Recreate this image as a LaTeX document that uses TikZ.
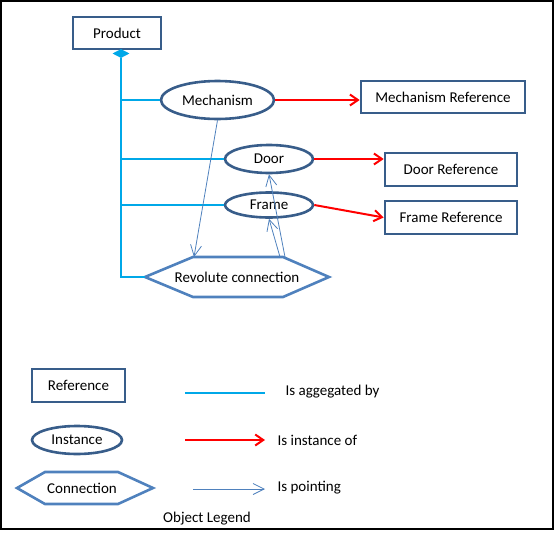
\documentclass[tikz,border=0pt]{standalone}
\usepackage{fontspec}
\setmainfont{Carlito}
\usetikzlibrary{shapes.geometric,arrows.meta}

\definecolor{refblue}{RGB}{56,93,138}
\definecolor{hexblue}{RGB}{79,129,189}
\definecolor{aggblue}{RGB}{0,168,232}

\begin{document}
\begin{tikzpicture}[x=1pt, y=-1pt,
    font=\fontsize{15}{17}\selectfont,
    refbox/.style={draw=refblue, line width=2.6pt, rectangle, inner sep=0pt},
    inst/.style={draw=refblue, line width=2.6pt, ellipse, inner sep=0pt},
    conn/.style={inner sep=0pt},
    hexline/.style={draw=hexblue, line width=2.6pt, line join=miter},
    aggr/.style={draw=aggblue, line width=2.2pt},
    isof/.style={draw=red, line width=2pt, -{Straight Barb[length=8pt, width=11pt]}},
    pointing/.style={draw=hexblue, line width=0.8pt, -{Straight Barb[length=11pt, width=11pt]}}]

            \useasboundingbox (0,0) rectangle (555,533);
            \draw[line width=1.4pt] (1,1) rectangle (553,529);

            % model
            \node[refbox, minimum width=88, minimum height=32] (prod) at (117,33) {Product};
            \node[diamond, fill=aggblue, inner sep=0pt, minimum width=17, minimum height=9] (agg) at (121,53.5) {};

            \node[inst, minimum width=113, minimum height=38] (mech) at (217.5,100) {Mechanism};
            \node[inst, minimum width=88, minimum height=28] (door) at (269,159) {Door};
            \node[inst, minimum width=88, minimum height=25] (frame) at (269,205) {Frame};
            \node[conn, minimum height=40] (rev) at (237,277) {Revolute connection};
            \draw[hexline] ([shift={(-44,-20)}]rev.center) -- ([shift={(46,-20)}]rev.center)
                -- ([shift={(92,0)}]rev.center) -- ([shift={(46,20)}]rev.center)
                -- ([shift={(-44,20)}]rev.center) -- ([shift={(-92,0)}]rev.center) -- cycle;

            \node[refbox, minimum width=164, minimum height=32] (mref) at (443,97) {Mechanism Reference};
            \node[refbox, minimum width=132, minimum height=33] (dref) at (451,169.5) {Door Reference};
            \node[refbox, minimum width=132, minimum height=33] (fref) at (451,217.5) {Frame Reference};

            \draw[aggr] (agg.south) |- ([xshift=-92pt]rev.center);
            \draw[aggr] (agg.south |- mech.west) -- (mech.west);
            \draw[aggr] (agg.south |- door.west) -- (door.west);
            \draw[aggr] (agg.south |- frame.west) -- (frame.west);

            \draw[isof] (mech.east) -- (mech.east -| mref.west);
            \draw[isof] (door.east) -- (door.east -| dref.west);
            \draw[isof] (frame.east) -- (fref.west);

            \draw[pointing] (mech.south) -- ([shift={(-43,-20)}]rev.center);
            \draw[pointing] ([shift={(48,-20)}]rev.center) -- (door.south);
            \draw[pointing] ([shift={(43,-20)}]rev.center) -- (frame.south);

            % legend
            \node[refbox, minimum width=93, minimum height=33] (lref) at (78.5,385.5) {Reference};
            \node[inst, minimum width=90, minimum height=28] (linst) at (77,440) {Instance};
            \node[conn, minimum height=32] (lconn) at (82,488) {Connection};
            \draw[hexline] ([shift={(-37,-16)}]lconn.center) -- ([shift={(36,-16)}]lconn.center)
                -- ([shift={(71,0)}]lconn.center) -- ([shift={(36,16)}]lconn.center)
                -- ([shift={(-37,16)}]lconn.center) -- ([shift={(-65,0)}]lconn.center) -- cycle;

            \coordinate (agga) at (185,393);
            \coordinate (aggb) at (265,393);
            \coordinate (isa) at (185,440);
            \coordinate (isb) at (265,440);
            \coordinate (pta) at (193,489);
            \coordinate (ptb) at (265,489);
            \draw[aggr, line width=2pt] (agga) -- (aggb);
            \draw[isof] (isa) -- (isb);
            \draw[pointing] (pta) -- (ptb);

            \node[anchor=west] (laggr) at (282,392) {Is aggegated by};
            \node[anchor=west] (lisof) at (274,440) {Is instance of};
            \node[anchor=west] (lpoint) at (274,488) {Is pointing};
            \node (legend) at (207,519) {Object Legend};
        \end{tikzpicture}
\end{document}
